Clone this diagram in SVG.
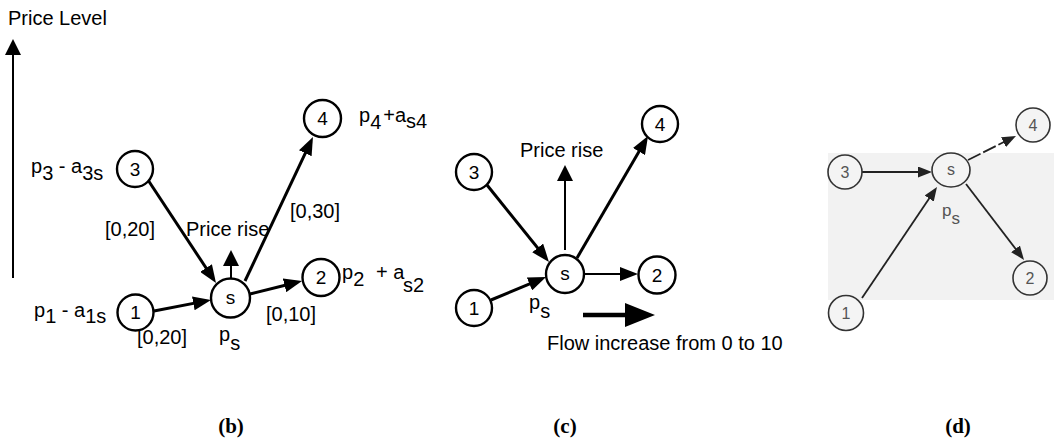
<svg xmlns="http://www.w3.org/2000/svg" width="1054" height="441" viewBox="0 0 1054 441">
<defs>
<marker id="ah" markerUnits="userSpaceOnUse" viewBox="0 0 18 14" refX="12" refY="7" markerWidth="18" markerHeight="14" orient="auto"><path d="M0,0 L18,7 L0,14 z" fill="#000"/></marker>
<marker id="ahs" markerUnits="userSpaceOnUse" viewBox="0 0 16 16" refX="10" refY="8" markerWidth="16" markerHeight="16" orient="auto"><path d="M0,0 L16,8 L0,16 z" fill="#000"/></marker>
<marker id="ahd" markerUnits="userSpaceOnUse" viewBox="0 0 14 11" refX="9" refY="5.5" markerWidth="14" markerHeight="11" orient="auto"><path d="M0,0 L14,5.5 L0,11 z" fill="#222"/></marker>
<marker id="ahbig" markerUnits="userSpaceOnUse" viewBox="0 0 30 24" refX="2" refY="12" markerWidth="30" markerHeight="24" orient="auto"><path d="M0,0 L30,12 L0,24 z" fill="#000"/></marker>
</defs>
<style>
text{font-family:"Liberation Sans",Arial,sans-serif;fill:#000}
.t{font-size:20px}
.n{font-size:19px;text-anchor:middle}
.nd{font-size:16px;text-anchor:middle;fill:#555}
.node{fill:#fff;stroke:#000;stroke-width:2.4}
.noded{fill:#f4f4f4;stroke:#333;stroke-width:1.6}
.e{stroke:#000;stroke-width:3;fill:none}
.e2{stroke:#000;stroke-width:2;fill:none}
.ed{stroke:#222;stroke-width:1.8;fill:none}
.cap{font-family:"Liberation Serif","Times New Roman",serif;font-weight:bold;font-size:21px;text-anchor:middle}
</style>
<rect width="1054" height="441" fill="#fff"/>
<rect x="828" y="153" width="226" height="147" fill="#f2f2f2"/>

<g id="axis">
<text class="t" x="8" y="25">Price Level</text>
<line x1="13" y1="278" x2="13" y2="45" stroke="#000" stroke-width="2" marker-end="url(#ahs)"/>
</g>

<g id="connectors">
<line class="e" x1="154" y1="311" x2="205.1" y2="301.1" marker-end="url(#ah)"/>
<line class="e" x1="148" y1="180" x2="212.7" y2="278" marker-end="url(#ah)"/>
<line class="e" x1="250" y1="294" x2="296.2" y2="282.5" marker-end="url(#ah)"/>
<line class="e" x1="245" y1="281" x2="310.4" y2="142.4" marker-end="url(#ah)"/>
<line class="e2" x1="231" y1="278" x2="231" y2="256" marker-end="url(#ahs)"/>

<line class="e" x1="487" y1="185" x2="545.2" y2="257.3" marker-end="url(#ah)"/>
<line class="e" x1="491" y1="300" x2="540.5" y2="279.3" marker-end="url(#ah)"/>
<line class="e" x1="577" y1="258" x2="645" y2="141.2" marker-end="url(#ah)"/>
<line class="e2" x1="584" y1="274" x2="632" y2="274" marker-end="url(#ah)"/>
<line class="e2" x1="565" y1="250" x2="565" y2="171" marker-end="url(#ahs)"/>
<line x1="583" y1="315" x2="627" y2="315" stroke="#000" stroke-width="4.5" marker-end="url(#ahbig)"/>

<line class="ed" x1="862" y1="172" x2="927" y2="172" marker-end="url(#ahd)"/>
<line class="ed" x1="862" y1="298" x2="934.2" y2="191.1" marker-end="url(#ahd)"/>
<line class="ed" x1="968" y1="160" x2="1011.5" y2="138.2" stroke-dasharray="14 3" marker-end="url(#ahd)"/>
<line class="ed" x1="966" y1="184" x2="1021" y2="256" marker-end="url(#ahd)"/>
</g>

<g id="b-node-1"><circle class="node" cx="135.5" cy="312.5" r="18"/><text class="n" x="135.5" y="319">1</text></g>
<g id="b-node-2"><circle class="node" cx="321" cy="277.5" r="18.5"/><text class="n" x="321" y="284">2</text></g>
<g id="b-node-3"><circle class="node" cx="135" cy="169" r="18"/><text class="n" x="135" y="175.5">3</text></g>
<g id="b-node-4"><circle class="node" cx="322.5" cy="118.5" r="18.5"/><text class="n" x="322.5" y="125">4</text></g>
<g id="b-node-s"><circle class="node" cx="230.5" cy="298" r="19.5"/><text class="n" x="230.5" y="304">s</text></g>

<g id="b-labels">
<text class="t" x="31" y="173">p<tspan dy="7">3</tspan><tspan dy="-7"> - a</tspan><tspan dy="7">3s</tspan></text>
<text class="t" x="34" y="317">p<tspan dy="6">1</tspan><tspan dy="-6"> - a</tspan><tspan dy="6">1s</tspan></text>
<text class="t" x="342" y="279">p<tspan dy="7">2</tspan><tspan dy="-7" x="376">+ a</tspan><tspan dy="13" x="403">s2</tspan></text>
<text class="t" x="359" y="122">p<tspan dy="7">4</tspan><tspan dy="-7" dx="2">+a</tspan><tspan dy="6">s4</tspan></text>
<text class="t" x="105" y="236">[0,20]</text>
<text class="t" x="186" y="236">Price rise</text>
<text class="t" x="290" y="218">[0,30]</text>
<text class="t" x="137" y="344">[0,20]</text>
<text class="t" x="266" y="321">[0,10]</text>
<text class="t" x="219" y="341">p<tspan dy="9">s</tspan></text>
</g>

<g id="c-node-1"><circle class="node" cx="474" cy="308" r="18"/><text class="n" x="474" y="314.5">1</text></g>
<g id="c-node-2"><circle class="node" cx="657" cy="275" r="18.5"/><text class="n" x="657" y="281.5">2</text></g>
<g id="c-node-3"><circle class="node" cx="474" cy="172" r="18"/><text class="n" x="474" y="178.5">3</text></g>
<g id="c-node-4"><circle class="node" cx="660" cy="124" r="18"/><text class="n" x="660" y="130.5">4</text></g>
<g id="c-node-s"><circle class="node" cx="565" cy="274" r="19"/><text class="n" x="565" y="280">s</text></g>

<g id="c-labels">
<text class="t" x="520" y="157">Price rise</text>
<text class="t" x="529" y="309">p<tspan dy="9">s</tspan></text>
<text class="t" x="547" y="350">Flow increase from 0 to 10</text>
</g>

<g id="d-node-1"><circle class="noded" cx="846" cy="313" r="17.5"/><text class="nd" x="846" y="318.5">1</text></g>
<g id="d-node-2"><circle class="noded" cx="1030" cy="278" r="17"/><text class="nd" x="1030" y="283.5">2</text></g>
<g id="d-node-3"><circle class="noded" cx="845" cy="172" r="17"/><text class="nd" x="845" y="177.5">3</text></g>
<g id="d-node-4"><circle class="noded" cx="1033" cy="125" r="17"/><text class="nd" x="1033" y="130.5">4</text></g>
<g id="d-node-s"><ellipse class="noded" cx="951" cy="170" rx="19" ry="17"/><text class="nd" x="951" y="175">s</text></g>

<g id="d-labels">
<text x="942" y="216" style="font-size:17px;fill:#555">p<tspan dy="8">s</tspan></text>
</g>

<g id="captions">
<text class="cap" x="231" y="433">(b)</text>
<text class="cap" x="565" y="433">(c)</text>
<text class="cap" x="958" y="433">(d)</text>
</g>
</svg>
